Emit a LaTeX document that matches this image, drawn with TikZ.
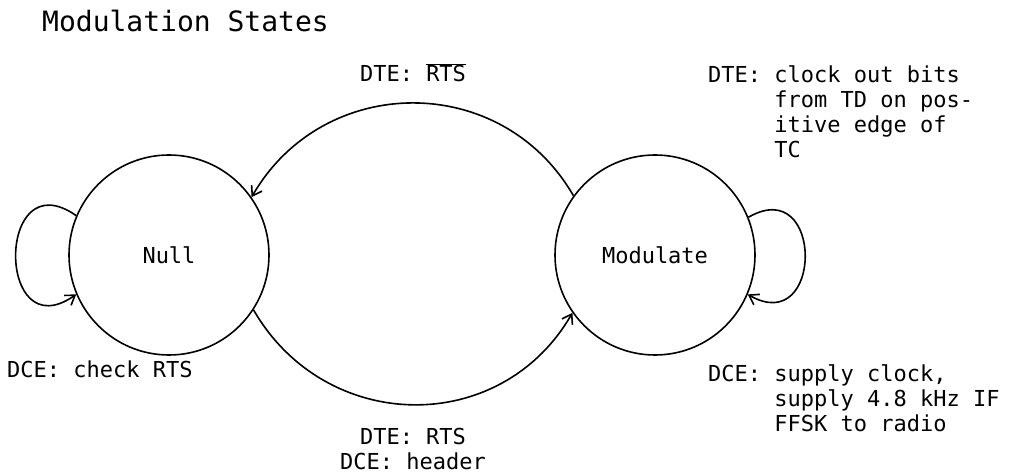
\documentclass[tikz,border=0pt]{standalone}
\usepackage{fontspec}
\setmainfont{DejaVu Sans Mono}
\usetikzlibrary{arrows.meta,positioning}

\begin{document}
\begin{tikzpicture}[
  x=1pt, y=1pt,
  state/.style={circle, draw, line width=1.6pt,
    minimum size=200pt, inner sep=0pt, font=\fontsize{22}{25}\selectfont},
  lbl/.style={inner sep=0pt, font=\fontsize{22}{25}\selectfont},
  every edge/.style={draw, line width=1.6pt, -{Straight Barb[length=9pt, width=12pt]}},
]
  \useasboundingbox (0,0) rectangle (1011,476);

  % === title ===
  \node[lbl, anchor=base west, font=\fontsize{28}{32}\selectfont] (title) at (42,444) {Modulation States};

  % === states ===
  \node[state] (null) at (169,221) {Null};
  \node[state] (mod)  at (655,221) {Modulate};

  % === transitions ===
  \path (mod.144)  edge[out=120, in=60, looseness=1.14] (null.35);
  \path (null.-33) edge[out=-60, in=-120, looseness=1.15] (mod.215);

  % === self loops ===
  \path (null.157) edge[out=145, in=215, looseness=3.2] (null.203);
  \path (mod.22)   edge[out=30, in=-30, looseness=2.9] (mod.-23);

  % === transition labels ===
  \node[lbl, anchor=base] (toplbl) at (413,394) {DTE: $\overline{\mbox{RTS}}$};
  \node[lbl, anchor=north, align=center] (botlbl) at (413,48) {DTE: RTS\\DCE: header};

  % === state actions ===
  \node[lbl, anchor=base west] (nullact) at (7,98) {DCE: check RTS};
  \node[lbl, anchor=base west] (dteact) at (708,393)
    {\begin{tabular}[t]{@{}l@{ }l@{}}DTE: & clock out bits\\ & from TD on pos-\\ & itive edge of\\ & TC\end{tabular}};
  \node[lbl, anchor=base west] (dceact) at (708,94)
    {\begin{tabular}[t]{@{}l@{ }l@{}}DCE: & supply clock,\\ & supply 4.8 kHz IF\\ & FFSK to radio\end{tabular}};

\end{tikzpicture}
\end{document}
